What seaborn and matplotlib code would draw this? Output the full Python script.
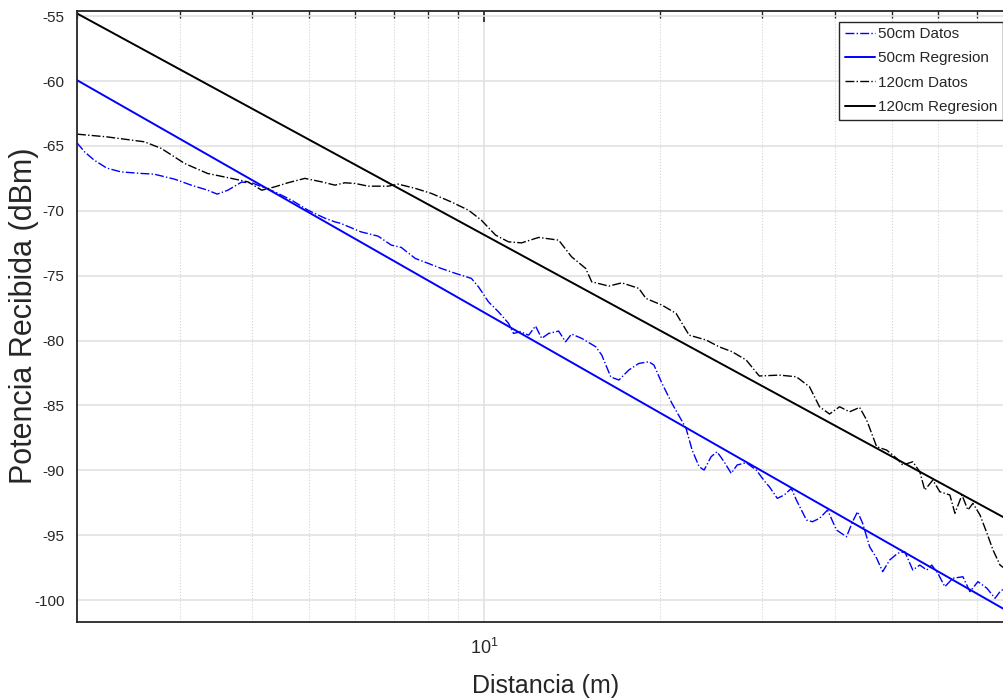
"""Potencia recibida vs distancia (50 cm / 120 cm), datos y regresion log-distancia."""
import matplotlib
matplotlib.use("Agg")
import matplotlib.pyplot as plt
import numpy as np
import pandas as pd
import seaborn as sns
from matplotlib.ticker import LogLocator, NullFormatter

# --- values ---
dist_50 = [2.00, 2.06, 2.14, 2.25, 2.38, 2.58, 2.71, 2.94, 3.14, 3.35, 3.48, 3.63,
           3.83, 3.99, 4.15, 4.37, 4.67, 4.98, 5.32, 5.54, 5.67, 6.14, 6.57, 6.92,
           7.20, 7.61, 8.01, 8.43, 8.92, 9.50, 9.77, 10.16, 10.57, 11.00, 11.22, 11.53,
           11.91, 12.24, 12.54, 12.89, 13.41, 13.78, 14.11, 14.69, 15.53, 15.90, 16.48,
           17.01, 17.69, 18.41, 19.15, 19.54, 20.17, 20.98, 22.18, 22.72, 23.36, 23.82,
           24.49, 25.07, 25.78, 26.51, 27.14, 28.13, 29.27, 30.45, 30.82, 31.81, 32.70,
           33.62, 34.30, 35.69, 36.55, 37.58, 38.79, 40.19, 41.81, 42.82, 43.68, 44.56,
           45.81, 47.10, 48.23, 49.59, 51.18, 52.63, 54.32, 55.85, 57.41, 58.56, 59.98,
           61.66, 63.64, 66.22, 68.08, 70.27, 72.82, 75.18, 76.68, 78.00]
dbm_50 = [-64.76, -65.45, -66.09, -66.71, -67.00, -67.12, -67.17, -67.56, -68.02, -68.41,
          -68.71, -68.41, -67.79, -67.84, -68.15, -68.54, -69.18, -69.95, -70.56, -70.85,
          -70.97, -71.62, -71.95, -72.64, -72.82, -73.67, -74.05, -74.44, -74.82, -75.21,
          -75.86, -77.01, -77.78, -78.67, -79.45, -79.32, -79.58, -78.88, -79.83, -79.45,
          -79.27, -80.09, -79.50, -79.83, -80.48, -81.12, -82.81, -83.04, -82.27, -81.76,
          -81.63, -81.89, -83.30, -84.84, -86.76, -88.44, -89.72, -89.98, -88.95, -88.57,
          -89.34, -90.23, -89.59, -89.41, -89.98, -91.00, -91.26, -92.16, -91.90, -91.39,
          -92.29, -93.83, -93.96, -93.70, -93.06, -94.60, -95.12, -93.96, -93.19, -94.08,
          -95.89, -96.78, -97.81, -96.91, -96.39, -96.27, -97.68, -97.30, -97.68, -97.30,
          -97.94, -98.97, -98.32, -98.20, -99.35, -98.58, -99.09, -99.86, -99.35, -99.09]

dist_120 = [2.00, 2.25, 2.61, 2.79, 3.06, 3.35, 3.68, 3.93, 4.15, 4.37, 4.60, 4.92, 5.26,
            5.54, 5.76, 6.00, 6.32, 6.84, 7.11, 7.61, 8.11, 8.77, 9.39, 9.88, 10.45, 11.00,
            11.58, 12.39, 13.41, 14.11, 14.92, 15.28, 16.35, 17.21, 18.41, 18.93, 20.17,
            21.32, 22.45, 24.02, 25.27, 26.61, 28.13, 29.62, 32.06, 34.30, 36.12, 37.58,
            39.10, 40.68, 42.32, 44.03, 45.27, 47.10, 49.00, 50.98, 52.21, 54.32, 55.85,
            56.96, 58.80, 60.45, 62.90, 64.16, 65.97, 67.54, 68.90, 70.84, 72.82, 74.58,
            76.68, 78.00]
dbm_120 = [-64.09, -64.30, -64.68, -65.19, -66.35, -67.12, -67.50, -67.77, -68.41, -68.15,
           -67.84, -67.50, -67.77, -68.02, -67.84, -67.89, -68.10, -68.10, -67.94, -68.27,
           -68.66, -69.31, -69.95, -70.72, -71.87, -72.39, -72.47, -72.05, -72.26, -73.54,
           -74.44, -75.47, -75.80, -75.55, -75.98, -76.75, -77.27, -77.90, -79.58, -79.96,
           -80.48, -80.86, -81.50, -82.73, -82.66, -82.79, -83.56, -85.10, -85.66, -85.10,
           -85.49, -85.15, -86.12, -88.18, -88.44, -89.08, -89.59, -89.34, -90.11, -91.52,
           -90.75, -91.65, -91.90, -93.31, -91.90, -93.06, -92.54, -93.44, -94.85, -96.14,
           -97.30, -97.55]

# regression lines (end points)
reg_dist = [2.0, 78.0]
reg_50 = [-59.93, -100.71]
reg_120 = [-54.79, -93.65]

labels = ["50cm Datos", "50cm Regresion", "120cm Datos", "120cm Regresion"]

series = [
    (labels[0], dist_50, dbm_50, "#0000ff", "-.", 1.0),
    (labels[1], reg_dist, reg_50, "#0000ff", "-", 1.4),
    (labels[2], dist_120, dbm_120, "#000000", "-.", 1.0),
    (labels[3], reg_dist, reg_120, "#000000", "-", 1.4),
]

sns.set_theme(style="white")
plt.rcParams["font.family"] = ["Liberation Sans", "DejaVu Sans"]
plt.rcParams["axes.unicode_minus"] = False
plt.rcParams["mathtext.default"] = "regular"

fig = plt.figure(figsize=(10.04, 7.0), dpi=100)
ax = fig.add_axes([77 / 1004, 1 - 621.5 / 700, (1005 - 77) / 1004, (621.5 - 11) / 700])

for name, d, v, color, ls, lw in series:
    df = pd.DataFrame({"distancia": d, "potencia": v})
    sns.lineplot(data=df, x="distancia", y="potencia", ax=ax, color=color,
                 linestyle=ls, lw=lw, label=name, sort=False, estimator=None)

ax.set_xscale("log")
ax.set_xlim(2.0, 78.2)
ax.set_ylim(-101.65, -54.6)
ax.set_yticks(np.arange(-100, -54, 5))
ax.xaxis.set_major_locator(LogLocator(base=10))
ax.xaxis.set_minor_locator(LogLocator(base=10, subs=np.arange(2, 10)))
ax.xaxis.set_minor_formatter(NullFormatter())

ax.set_axisbelow(True)
ax.grid(which="major", axis="both", color="#e2e2e2", lw=1.2, ls="-")
ax.grid(which="minor", axis="x", color="#d4d4d4", lw=0.8, ls=":")

for sp in ax.spines.values():
    sp.set_color("#262626")
    sp.set_linewidth(1.3)

ax.tick_params(which="both", direction="in", top=True, right=False, color="#262626")
ax.tick_params(axis="x", which="major", length=8, labelsize=13, pad=12)
ax.tick_params(axis="x", which="minor", length=5)
ax.tick_params(axis="y", which="major", length=4.5, labelsize=11, pad=9)

ax.set_xlabel("Distancia (m)", fontsize=18, color="#262626")
ax.set_ylabel("Potencia Recibida (dBm)", fontsize=22, color="#262626")
ax.xaxis.set_label_coords(0.505, -0.086)
ax.yaxis.set_label_coords(-0.041, 0.5)

ax.legend(loc="upper right", bbox_to_anchor=(1003 / 1004, 1 - 21.7 / 700),
          bbox_transform=fig.transFigure, fontsize=11, frameon=True, fancybox=False,
          edgecolor="#262626", framealpha=1, borderaxespad=0, borderpad=0.35,
          handlelength=2.0, handletextpad=0.2, labelspacing=0.68)
ax.get_legend().get_frame().set_linewidth(1.0)

fig.savefig("out.png", dpi=100)
